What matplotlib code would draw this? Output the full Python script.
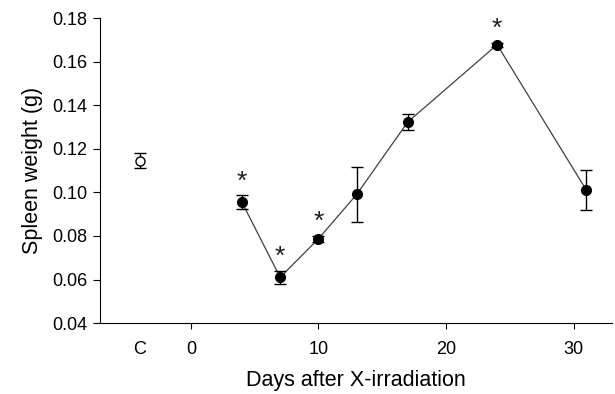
import matplotlib.pyplot as plt
import numpy as np

plt.rcParams['font.family'] = ['Liberation Sans', 'DejaVu Sans']

# control group
ctrl_x = -4
ctrl_y = 0.1145
ctrl_err = 0.0035

# days after irradiation
days = [4, 7, 10, 13, 17, 24, 31]
weight = [0.0955, 0.061, 0.0787, 0.0991, 0.1323, 0.1678, 0.101]
err = [0.0032, 0.0030, 0.0013, 0.0125, 0.0038, 0.0010, 0.0093]
signif = [True, True, True, False, False, True, False]

fig = plt.figure(figsize=(6.15, 3.94), dpi=100)
ax = fig.add_axes([0.163, 0.18, 0.832, 0.774])

ax.plot(days, weight, color='#404040', lw=0.9, zorder=1)
ax.errorbar(days, weight, yerr=err, fmt='o', color='black', ms=7,
            ecolor='black', elinewidth=1, capsize=4, capthick=1, zorder=2)
ax.errorbar([ctrl_x], [ctrl_y], yerr=[ctrl_err], fmt='o', mfc='white', mec='black',
            ms=6.5, ecolor='black', elinewidth=1, capsize=4, capthick=1, zorder=2)

for d, w, e, s in zip(days, weight, err, signif):
    if s:
        ax.text(d, w + e + 0.0008, '*', ha='center', va='bottom', fontsize=19,
                color='#202020')

ax.set_xlim(-7.1, 33)
ax.set_ylim(0.04, 0.18)
ax.set_yticks(np.arange(0.04, 0.181, 0.02))
ax.set_yticklabels(['%.2f' % v for v in np.arange(0.04, 0.181, 0.02)])
ax.set_xticks([0, 10, 20, 30])
ax.tick_params(axis='x', length=4, pad=9, labelsize=13)
ax.tick_params(axis='y', length=5, pad=4, labelsize=13)
ax.annotate('C', xy=(ctrl_x, 0), xycoords=ax.get_xaxis_transform(),
            xytext=(0, -13), textcoords='offset points', ha='center', va='top',
            fontsize=13)

ax.spines['top'].set_visible(False)
ax.spines['right'].set_visible(False)
ax.set_xlabel('Days after X-irradiation', fontsize=15.5, labelpad=8.5)
ax.set_ylabel('Spleen weight (g)', fontsize=15.5, labelpad=7)

fig.savefig('out.png', dpi=100)
